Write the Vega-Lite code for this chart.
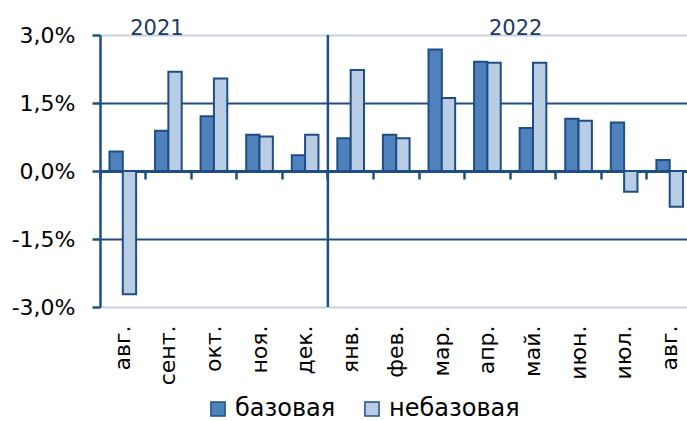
{
  "$schema": "https://vega.github.io/schema/vega-lite/v6.json",
  "width": 587,
  "height": 272,
  "autosize": "none",
  "padding": {"left": 100, "top": 35, "right": 0, "bottom": 114},
  "background": "white",
  "config": {
    "view": {"stroke": null},
    "font": "DejaVu Sans",
    "axis": {"labelFont": "DejaVu Sans", "labelColor": "#000000"},
    "legend": {"labelFont": "DejaVu Sans"}
  },
  "datasets": {
    "bars": [
      {"m": "авг.", "k": "базовая", "v": 0.43},
      {"m": "авг.", "k": "небазовая", "v": -2.72},
      {"m": "сент.", "k": "базовая", "v": 0.89},
      {"m": "сент.", "k": "небазовая", "v": 2.19},
      {"m": "окт.", "k": "базовая", "v": 1.21},
      {"m": "окт.", "k": "небазовая", "v": 2.04},
      {"m": "ноя.", "k": "базовая", "v": 0.80},
      {"m": "ноя.", "k": "небазовая", "v": 0.76},
      {"m": "дек.", "k": "базовая", "v": 0.35},
      {"m": "дек.", "k": "небазовая", "v": 0.80},
      {"m": "янв.", "k": "базовая", "v": 0.72},
      {"m": "янв.", "k": "небазовая", "v": 2.23},
      {"m": "фев.", "k": "базовая", "v": 0.80},
      {"m": "фев.", "k": "небазовая", "v": 0.72},
      {"m": "мар.", "k": "базовая", "v": 2.68},
      {"m": "мар.", "k": "небазовая", "v": 1.61},
      {"m": "апр.", "k": "базовая", "v": 2.41},
      {"m": "апр.", "k": "небазовая", "v": 2.39},
      {"m": "май.", "k": "базовая", "v": 0.95},
      {"m": "май.", "k": "небазовая", "v": 2.39},
      {"m": "июн.", "k": "базовая", "v": 1.15},
      {"m": "июн.", "k": "небазовая", "v": 1.11},
      {"m": "июл.", "k": "базовая", "v": 1.07},
      {"m": "июл.", "k": "небазовая", "v": -0.46},
      {"m": "авг. ", "k": "базовая", "v": 0.24},
      {"m": "авг. ", "k": "небазовая", "v": -0.79}
    ],
    "divider": [{"m": "янв."}],
    "years": [
      {"m": "сент.", "t": "2021", "pos": 3.0},
      {"m": "май.", "t": "2022", "pos": 3.0}
    ]
  },
  "layer": [
    {
      "data": {"name": "bars"},
      "mark": {"type": "bar", "stroke": "#1f4e85", "strokeWidth": 2},
      "encoding": {
        "x": {
          "field": "m",
          "type": "nominal",
          "sort": null,
          "scale": {"paddingInner": 0, "paddingOuter": 0, "range": [0, 592.5]},
          "axis": {
            "title": null,
            "orient": "bottom",
            "offset": -136,
            "domain": false,
            "bandPosition": 0,
            "ticks": true,
            "tickSize": 8,
            "tickWidth": 2.5,
            "tickColor": "#1f4e85",
            "labelAngle": -90,
            "labelAlign": "right",
            "labelBaseline": "middle",
            "labelFontSize": 22,
            "labelPadding": 146,
            "labelExpr": "trim(datum.label)"
          }
        },
        "xOffset": {
          "field": "k",
          "type": "nominal",
          "scale": {"paddingInner": 0, "paddingOuter": 0.71}
        },
        "y": {
          "field": "v",
          "type": "quantitative",
          "scale": {"domain": [-3, 3], "nice": false, "zero": false},
          "axis": {
            "title": null,
            "values": [-3, -1.5, 0, 1.5, 3],
            "labelExpr": "(datum.value < 0 ? '-' : '') + replace(format(abs(datum.value), '.1f'), '.', ',') + '%'",
            "labelFontSize": 22,
            "labelPadding": 17,
            "tickSize": 8,
            "tickWidth": 2.5,
            "tickColor": "#1f4e85",
            "domainColor": "#1f4e85",
            "domainWidth": 2.5,
            "grid": true,
            "gridColor": {
              "condition": {"test": "abs(datum.value) == 3", "value": "#c5d2e3"},
              "value": "#1f4e85"
            },
            "gridWidth": {
              "condition": {"test": "datum.value == 0", "value": 3},
              "value": 2
            }
          }
        },
        "color": {
          "field": "k",
          "type": "nominal",
          "scale": {"domain": ["базовая", "небазовая"], "range": ["#4f81bd", "#b9cde5"]},
          "legend": {
            "title": null,
            "orient": "none",
            "direction": "horizontal",
            "legendX": 106,
            "legendY": 362,
            "symbolType": "square",
            "symbolSize": 200,
            "symbolStrokeColor": "#1f4e85",
            "symbolStrokeWidth": 1.5,
            "labelFontSize": 24,
            "labelColor": "#000000",
            "labelOffset": 5,
            "columnPadding": 24
          }
        }
      }
    },
    {
      "data": {"name": "divider"},
      "mark": {"type": "rule", "color": "#1f4e85", "strokeWidth": 2.5},
      "encoding": {
        "x": {"field": "m", "type": "nominal", "sort": null, "bandPosition": 0}
      }
    },
    {
      "data": {"name": "years"},
      "transform": [{"filter": "datum.t == '2021'"}],
      "mark": {"type": "text", "fontSize": 21, "color": "#1f3864", "baseline": "alphabetic", "align": "center"},
      "encoding": {
        "x": {"field": "m", "type": "nominal", "sort": null, "bandPosition": 0.25},
        "y": {"field": "pos", "type": "quantitative"},
        "text": {"field": "t"}
      }
    },
    {
      "data": {"name": "years"},
      "transform": [{"filter": "datum.t == '2022'"}],
      "mark": {"type": "text", "fontSize": 21, "color": "#1f3864", "baseline": "alphabetic", "align": "center"},
      "encoding": {
        "x": {"field": "m", "type": "nominal", "sort": null, "bandPosition": 0.12},
        "y": {"field": "pos", "type": "quantitative"},
        "text": {"field": "t"}
      }
    }
  ]
}
